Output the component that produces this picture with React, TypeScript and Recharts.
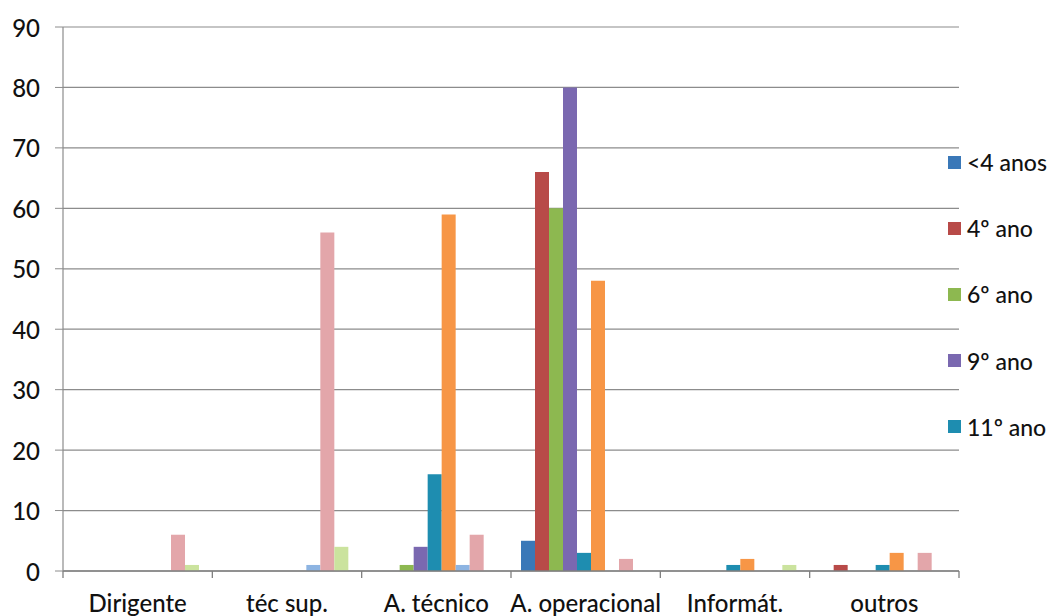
import React from 'react';
import { BarChart, Bar, XAxis, YAxis, CartesianGrid } from 'recharts';

const categories = ['Dirigente', 'téc sup.', 'A. técnico', 'A. operacional', 'Informát.', 'outros'];
const seriesNames = ['<4 anos', '4º ano', '6º ano', '9º ano', '11º ano', '12º ano', 'Bacharelato', 'Licenciatura', 'Mestrado'];
const menos4anos = [0, 0, 0, 5, 0, 0];
const ano4 = [0, 0, 0, 66, 0, 1];
const ano6 = [0, 0, 1, 60, 0, 0];
const ano9 = [0, 0, 4, 80, 0, 0];
const ano11 = [0, 0, 16, 3, 1, 1];
const ano12 = [0, 0, 59, 48, 2, 3];
const bacharelato = [0, 1, 1, 0, 0, 0];
const licenciatura = [6, 56, 6, 2, 0, 3];
const mestrado = [1, 4, 0, 0, 1, 0];
const seriesValues = [menos4anos, ano4, ano6, ano9, ano11, ano12, bacharelato, licenciatura, mestrado];
const seriesColors = ['#3a78b8', '#b84a48', '#8db850', '#7a68b0', '#1e8db0', '#f79646', '#8db4e2', '#e3a6aa', '#cbe39e'];
const yTicks = [0, 10, 20, 30, 40, 50, 60, 70, 80, 90];
const legendShown = 5;

const data = categories.map((c, i) => {
  const row: Record<string, string | number> = { name: c };
  seriesNames.forEach((s, k) => {
    row['s' + k] = seriesValues[k][i];
  });
  return row;
});

const FONT = 'Lato, "Open Sans", sans-serif';
const PLOT_LEFT = 63;
const PLOT_RIGHT = 959;
const BAND = (PLOT_RIGHT - PLOT_LEFT) / categories.length;

function XTick(props: any) {
  const { x, y, payload, index } = props;
  const last = index === categories.length - 1;
  return (
    <g>
      <line x1={x - BAND / 2} x2={x - BAND / 2} y1={y} y2={y + 7} stroke="#7f7f7f" strokeWidth={1.3} />
      {last && <line x1={x + BAND / 2} x2={x + BAND / 2} y1={y} y2={y + 7} stroke="#7f7f7f" strokeWidth={1.3} />}
      <text x={x} y={y + 41} textAnchor="middle" fontFamily={FONT} fontSize={24} fontWeight={500} fill="#111">
        {payload.value}
      </text>
    </g>
  );
}

export default function App() {
  return (
    <div style={{ position: 'absolute', left: 0, top: 0, width: 1057, height: 616, background: '#fff' }}>
      <BarChart
        width={1057}
        height={616}
        data={data}
        margin={{ top: 27, right: 1057 - PLOT_RIGHT, bottom: 0, left: 0 }}
        barCategoryGap={10}
        barGap={0}
      >
        <CartesianGrid vertical={false} stroke="#8c8c8c" strokeWidth={1.2} />
        <XAxis
          dataKey="name"
          height={45}
          tickSize={0}
          tickMargin={0}
          tickLine={false}
          axisLine={{ stroke: '#7f7f7f', strokeWidth: 1.3 }}
          tick={<XTick />}
          interval={0}
        />
        <YAxis
          width={PLOT_LEFT}
          domain={[0, 90]}
          ticks={yTicks}
          interval={0}
          tickSize={8}
          tickMargin={15}
          tickLine={{ stroke: '#8c8c8c' }}
          axisLine={{ stroke: '#8c8c8c', strokeWidth: 1.2 }}
          tick={{ fontFamily: FONT, fontSize: 24, fontWeight: 500, fill: '#111', dy: 1 }}
        />
        {seriesNames.map((s, k) => (
          <Bar key={s} dataKey={'s' + k} name={s} fill={seriesColors[k]} isAnimationActive={false} />
        ))}
      </BarChart>
      <div style={{ position: 'absolute', left: 948, top: 149, fontFamily: FONT, fontSize: 23, fontWeight: 500, color: '#111' }}>
        {seriesNames.slice(0, legendShown).map((s, k) => (
          <div key={s} style={{ display: 'flex', alignItems: 'center', height: 26, marginBottom: 40.2 }}>
            <span style={{ display: 'inline-block', width: 13, height: 13, background: seriesColors[k], marginRight: 6, flexShrink: 0 }} />
            <span style={{ whiteSpace: 'nowrap' }}>{s}</span>
          </div>
        ))}
      </div>
    </div>
  );
}
